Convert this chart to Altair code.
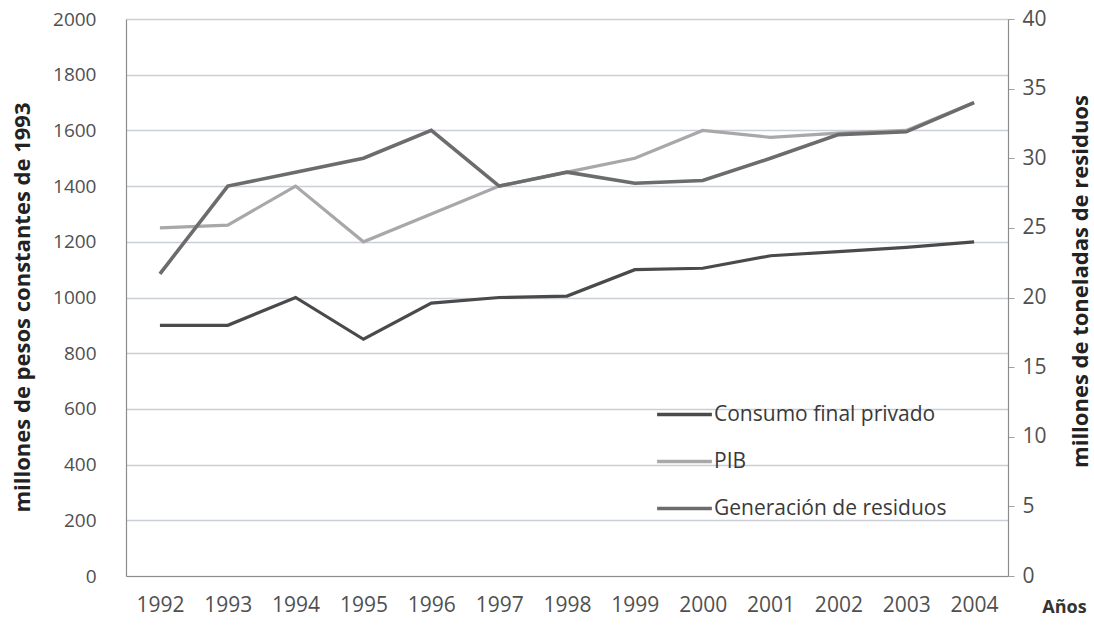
import altair as alt
import pandas as pd

# Series (1992-2004)
anios = [1992, 1993, 1994, 1995, 1996, 1997, 1998, 1999, 2000, 2001, 2002, 2003, 2004]
consumo = [900, 900, 1000, 850, 980, 1000, 1005, 1100, 1105, 1150, 1165, 1180, 1200]
pib = [1250, 1260, 1400, 1200, 1300, 1400, 1450, 1500, 1600, 1575, 1590, 1600, 1700]
residuos = [21.7, 28.0, 29.0, 30.0, 32.0, 28.0, 29.0, 28.2, 28.4, 30.0, 31.7, 31.9, 34.0]

series = ["Consumo final privado", "PIB", "Generación de residuos"]
colores = ["#4a4a4a", "#a8a8a8", "#6c6c6c"]

pesos = pd.DataFrame({
    "anio": anios * 2,
    "serie": [series[0]] * len(anios) + [series[1]] * len(anios),
    "valor": consumo + pib,
})
toneladas = pd.DataFrame({"anio": anios, "serie": series[2], "valor": residuos})

FONT = "Open Sans"
GRIS = "#505050"

x_enc = alt.X(
    "anio:O",
    title="Años",
    scale=alt.Scale(paddingOuter=0.5),
    axis=alt.Axis(
        labelAngle=0, labelFontSize=21, labelColor=GRIS, labelFont=FONT,
        labelPadding=18, ticks=False, domainColor="#8c8c8c", domainWidth=1.2,
        titleFont=FONT, titleFontSize=18, titleFontWeight="bold", titleColor="#333333",
        titleX=938, titleY=31, titleBaseline="middle", titleAlign="center",
    ),
)

color_enc = alt.Color(
    "serie:N",
    scale=alt.Scale(domain=series, range=colores),
    legend=alt.Legend(
        title=None, orient="none", legendX=529, legendY=366,
        symbolType="stroke", symbolSize=3000, symbolStrokeWidth=3.5,
        labelFont=FONT, labelFontSize=21, labelColor="#3a3a3a",
        labelOffset=0, rowPadding=7, labelLimit=400,
    ),
)

izquierda = alt.Chart(pesos).mark_line(strokeWidth=3.2).encode(
    x=x_enc,
    y=alt.Y(
        "valor:Q",
        title="millones de pesos constantes de 1993",
        scale=alt.Scale(domain=[0, 2000], nice=False),
        axis=alt.Axis(
            values=list(range(0, 2001, 200)), format="d", labelFontSize=19,
            labelColor=GRIS, labelFont=FONT, labelPadding=30, ticks=False,
            domainColor="#8c8c8c", domainWidth=1.2,
            gridColor="#c9ced8", gridWidth=1.3,
            titleFont=FONT, titleFontSize=22, titleFontWeight="bold",
            titleColor="#222222", titleAngle=270, titleX=-104, titleY=288,
            titleAlign="center", titleBaseline="middle",
        ),
    ),
    color=color_enc,
)

derecha = alt.Chart(toneladas).mark_line(strokeWidth=3.6).encode(
    x=x_enc,
    y=alt.Y(
        "valor:Q",
        title="millones de toneladas de residuos",
        scale=alt.Scale(domain=[0, 40], nice=False),
        axis=alt.Axis(
            orient="right", values=list(range(0, 41, 5)), labelFontSize=21,
            labelColor=GRIS, labelFont=FONT, labelPadding=8, tickSize=6,
            tickColor="#a0a0a0", domainColor="#8c8c8c", domainWidth=1.2, grid=False,
            titleFont=FONT, titleFontSize=22, titleFontWeight="bold",
            titleColor="#222222", titleAngle=270, titleX=72, titleY=262,
            titleAlign="center", titleBaseline="middle",
        ),
    ),
    color=color_enc,
)

chart = (
    alt.layer(izquierda, derecha)
    .resolve_scale(y="independent")
    .properties(
        width=882, height=557,
        autosize=alt.AutoSizeParams(type="none"),
        padding={"left": 126, "top": 19, "right": 86, "bottom": 55},
        background="white",
    )
    .configure_view(stroke=None)
)

chart.save("out.html", embed_options={"renderer": "svg", "actions": False})
